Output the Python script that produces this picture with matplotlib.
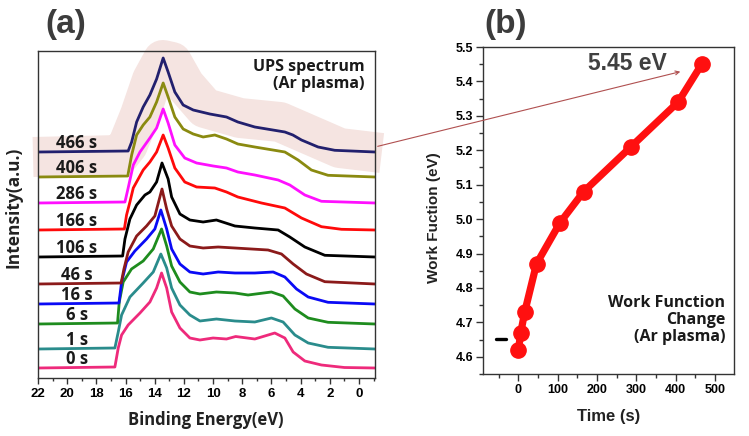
import matplotlib
matplotlib.use("Agg")
import matplotlib.pyplot as plt
from matplotlib.patches import FancyArrowPatch
from matplotlib.ticker import MultipleLocator

# ---------------- data ----------------
labels = ["0 s", "1 s", "6 s", "16 s", "46 s", "106 s", "166 s", "286 s", "406 s", "466 s"]
colors = ["#EE2A7B", "#2A8C8C", "#1E8C1E", "#0A0AF5", "#8B1A1A",
          "#000000", "#FF0A0A", "#FF10FF", "#8A8A10", "#22206E"]
offsets = [10, 29, 54, 74, 94, 121, 148, 175, 201, 226]

E0 = [22, 16.73, 16.50, 16.27, 15.82, 15.01, 14.33, 13.87, 13.53, 13.18, 12.84, 12.27, 11.59, 10.9, 10.0, 9.08, 8.45, 7.14, 5.77, 5.08, 4.51, 3.71, 2.57, 1.0, -1.1]
H0 = [0, 1, 20, 33, 43, 55, 66, 80, 95, 80, 56, 40, 30, 28, 30, 29, 31.5, 29, 35, 30, 16, 7, 3, 0.5, 0]
E1 = [22, 16.73, 16.5, 16.27, 15.7, 14.79, 14.1, 13.58, 13.18, 12.84, 12.27, 11.59, 10.9, 9.77, 8.5, 7.14, 6.0, 5.2, 4.39, 3.48, 2.12, -1.1]
H1 = [0, 1, 17, 34, 52, 66, 77, 95, 81, 61, 44, 34, 28, 30, 28, 27, 31, 27, 14, 6, 1.7, 0]
E6 = [22, 16.55, 16.43, 16.16, 15.59, 14.79, 14.1, 13.53, 13.18, 12.84, 12.27, 11.59, 10.9, 9.77, 8.5, 7.6, 6.0, 5.2, 4.39, 3.48, 2.12, -1.1]
H6 = [0, 1, 22, 42, 55, 63, 75, 95, 78, 58, 42, 32, 30, 32, 31, 29, 32, 28, 15, 6, 1.7, 0]
E16 = [22, 16.45, 16.27, 15.93, 15.36, 14.56, 13.99, 13.58, 13.18, 12.84, 12.27, 11.59, 10.68, 9.65, 8.5, 7.14, 5.88, 5.08, 4.28, 3.48, 2.12, -1.1]
H16 = [0, 1, 22, 42, 53, 65, 75, 94, 75, 55, 40, 32, 30, 32, 31, 31, 32, 27, 15, 7, 1.7, 0]
E46 = [22, 16.3, 16.11, 15.82, 15.24, 14.56, 13.99, 13.5, 13.18, 12.84, 12.27, 11.59, 10.68, 9.65, 8.5, 6.23, 5.31, 4.51, 3.6, 2.34, -1.1]
H46 = [0, 1, 15, 32, 48, 58, 68, 95, 75, 58, 45, 38, 36, 37, 36, 34, 30, 20, 10, 2.3, 0]
E106 = [22, 16.2, 16.04, 15.7, 15.24, 14.67, 14.33, 13.87, 13.5, 13.08, 12.84, 12.27, 11.59, 10.68, 9.77, 8.5, 7.14, 5.54, 4.74, 3.71, 2.34, -1.1]
H106 = [0, 1, 18, 38, 52, 62, 65, 75, 94, 78, 60, 43, 37, 35, 37, 31, 29, 27, 20, 10, 1.7, 0]
E166 = [22, 16.08, 15.93, 15.7, 15.47, 14.79, 14.33, 13.87, 13.42, 13.08, 12.62, 11.94, 11.13, 9.88, 9.08, 8.3, 6.68, 5.08, 3.94, 2.57, 1.2, -1.1]
H166 = [0, 1, 15, 28, 42, 60, 68, 78, 95, 82, 62, 48, 43, 42, 38, 33, 27, 22, 12, 3.3, 0.7, 0]
E286 = [22, 16.04, 15.82, 15.47, 15.01, 14.33, 13.87, 13.42, 13.08, 12.62, 11.94, 11.13, 9.99, 9.08, 8.3, 7.14, 5.54, 4.74, 3.71, 2.57, -1.1]
H286 = [0, 1, 15, 38, 51, 65, 75, 94, 80, 58, 45, 40, 37, 35, 31, 28, 23, 18, 8, 1.7, 0]
E406 = [22, 15.85, 15.58, 15.24, 14.79, 14.33, 13.87, 13.42, 13.08, 12.62, 12.05, 11.36, 10.68, 9.88, 9.08, 8.3, 7.14, 5.08, 4.17, 3.26, 2.12, -1.1]
H406 = [0, 1, 22, 42, 52, 60, 75, 94, 80, 60, 48, 43, 40, 42, 38, 33, 30, 25, 17, 7, 1.7, 0]
E466 = [22, 15.82, 15.58, 15.24, 14.79, 14.33, 13.87, 13.42, 13.08, 12.62, 12.05, 11.36, 10.22, 9.08, 8.3, 7.14, 5.08, 4.53, 3.94, 2.8, 1.66, -1.1]
H466 = [0, 1, 10, 30, 45, 57, 73, 94, 80, 60, 47, 42, 38, 35, 30, 25, 20, 17, 12, 5, 1.7, 0]

energies = [E0, E1, E6, E16, E46, E106, E166, E286, E406, E466]
heights = [H0, H1, H6, H16, H46, H106, H166, H286, H406, H466]

# highlight band around the 466 s spectrum
band_E = [22.34, 16.38, 15.84, 15.01, 14.19, 13.44, 12.82, 11.93, 10.56, 8.16, 5.42, 3.37, 1.32, -1.56]
band_y = [221, 223, 233, 263, 298, 318, 316, 293, 270, 260, 256, 243, 230, 225]

# panel (b)
time_s = [0, 6, 16, 46, 106, 166, 286, 406, 466]
work_fn = [4.62, 4.67, 4.73, 4.87, 4.99, 5.08, 5.21, 5.34, 5.45]
dash_x = [-58, -31]
dash_y = [4.652, 4.652]

# ---------------- figure ----------------
W, H = 749, 436
fig = plt.figure(figsize=(W / 100, H / 100), dpi=100)

def fx(px):
    return px / W

def fy(py):
    return 1 - py / H

TXT = ["Open Sans", "DejaVu Sans"]
ARI = ["Liberation Sans", "DejaVu Sans"]

ax = fig.add_axes([fx(38), fy(378), fx(375 - 38), (378 - 51) / H])
ax.set_xlim(22, -1.1)
ax.set_ylim(0, 327)

ax.plot(band_E, band_y, color="#f5e4e1", lw=28.8, solid_capstyle="butt",
        solid_joinstyle="round", clip_on=False, zorder=0.5)

for E, h, off, c, lab in zip(energies, heights, offsets, colors, labels):
    ax.plot(E, [off + v for v in h], color=c, lw=2.0, zorder=2,
            solid_joinstyle="round")
    ax.text(19.33, off + 9, lab, ha="center", va="center", fontsize=12,
            fontweight="bold", family=TXT, color="#1a1a1a", zorder=3)

ax.text(0.97, 0.975, "UPS spectrum\n(Ar plasma)", transform=ax.transAxes,
        ha="right", va="top", fontsize=11.5, fontweight="bold", family=TXT,
        color="#1a1a1a", linespacing=1.1)

ax.set_yticks([])
ax.set_xticks(list(range(22, -1, -2)))
ax.xaxis.set_minor_locator(MultipleLocator(1))
ax.tick_params(axis="x", which="major", direction="out", length=4, width=1,
               labelsize=9.5, pad=3, color="#333333")
ax.tick_params(axis="x", which="minor", direction="out", length=2.5, width=1,
               color="#333333")
for lbl in ax.get_xticklabels():
    lbl.set_fontweight("bold")
    lbl.set_family(ARI)
for s in ax.spines.values():
    s.set_color("#333333")
    s.set_linewidth(1.0)

fig.text(fx(206), fy(420), "Binding Energy(eV)", ha="center", va="center",
         fontsize=12, fontweight="bold", family=TXT, color="#222222")
fig.text(fx(14), fy(207), "Intensity(a.u.)", ha="center", va="center",
         rotation=90, fontsize=12.5, fontweight="bold", family=TXT, color="#222222")
fig.text(fx(66), fy(24), "(a)", ha="center", va="center", fontsize=24,
         fontweight="bold", family=ARI, color="#3c3c3c")

# panel (b)
bx = fig.add_axes([fx(483), fy(374), fx(734 - 483), (374 - 47) / H])
bx.set_xlim(-90, 548)
bx.set_ylim(4.55, 5.5)
bx.plot(time_s, work_fn, color="#FF1010", lw=5.2, marker="o", markersize=11,
        zorder=3, clip_on=False)
bx.plot(dash_x, dash_y, color="black", lw=2.4, solid_capstyle="round")
bx.set_xticks([0, 100, 200, 300, 400, 500])
bx.xaxis.set_minor_locator(MultipleLocator(50))
bx.set_yticks([4.6, 4.7, 4.8, 4.9, 5.0, 5.1, 5.2, 5.3, 5.4, 5.5])
bx.set_yticklabels(["4.6", "4.7", "4.8", "4.9", "5.0", "5.1", "5.2", "5.3", "5.4", "5.5"])
bx.yaxis.set_minor_locator(MultipleLocator(0.05))
bx.tick_params(which="major", direction="out", length=5, width=1,
               labelsize=9, color="#333333", pad=2)
bx.tick_params(which="minor", direction="out", length=3, width=1, color="#333333")
for lbl in bx.get_xticklabels() + bx.get_yticklabels():
    lbl.set_fontweight("bold")
    lbl.set_family(ARI)
for s in bx.spines.values():
    s.set_color("#333333")
    s.set_linewidth(1.0)

bx.text(0.965, 0.165, "Work Function\nChange\n(Ar plasma)", transform=bx.transAxes,
        ha="right", va="center", fontsize=11.5, fontweight="bold", family=TXT,
        color="#1a1a1a", linespacing=1.05)

fig.text(fx(627), fy(64), "5.45 eV", ha="center", va="center", fontsize=16.5,
         fontweight="bold", family=ARI, color="#404040")
fig.text(fx(609), fy(416), "Time (s)", ha="center", va="center", fontsize=12,
         fontweight="bold", family=ARI, color="#222222")
fig.text(fx(434), fy(218), "Work Fuction (eV)", ha="center", va="center",
         rotation=90, fontsize=11, fontweight="bold", family=ARI, color="#222222")
fig.text(fx(506), fy(24), "(b)", ha="center", va="center", fontsize=24,
         fontweight="bold", family=ARI, color="#3c3c3c")

arrow = FancyArrowPatch((fx(375), fy(147)), (fx(683), fy(71)),
                        transform=fig.transFigure, arrowstyle="->",
                        mutation_scale=7, color="#b05050", lw=0.8, zorder=10)
fig.add_artist(arrow)

fig.savefig("out.png", dpi=100)
